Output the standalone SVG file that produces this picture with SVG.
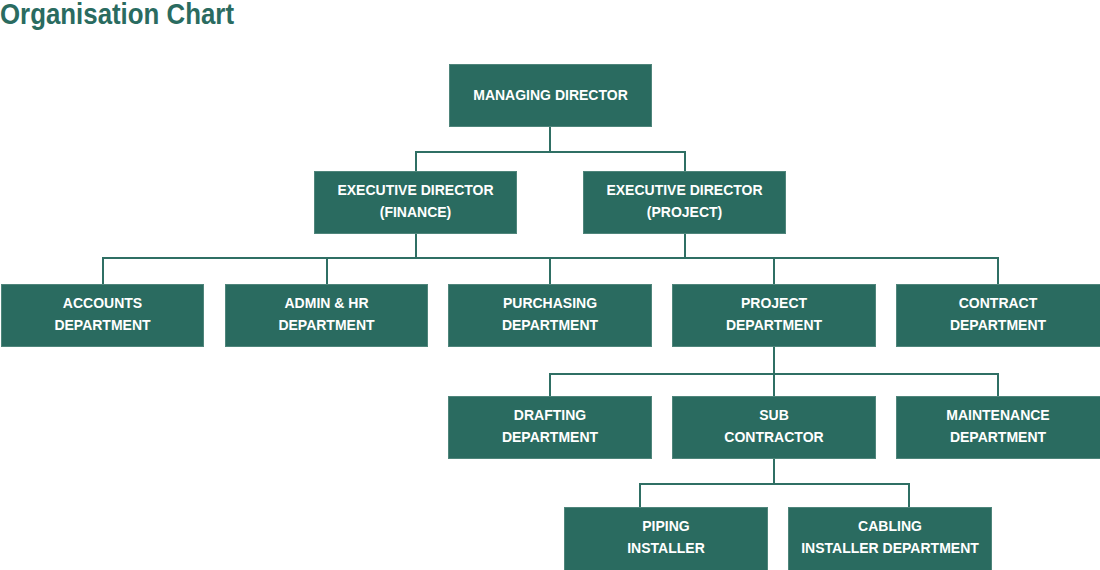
<svg xmlns="http://www.w3.org/2000/svg" width="1100" height="570" viewBox="0 0 1100 570">
<style>
.box{fill:#2a6b60;stroke:#4f857b;stroke-width:1}
.t{font-family:"Liberation Sans",Arial,sans-serif;font-size:14px;font-weight:bold;fill:#ffffff;text-anchor:middle}
.title{font-family:"Liberation Sans",Arial,sans-serif;font-size:29px;font-weight:bold;fill:#2a6b60}
.c{fill:none;stroke:#2f6f64;stroke-width:2}
</style>
<rect width="1100" height="570" fill="#ffffff"/>
<text class="title" x="0" y="24" textLength="234" lengthAdjust="spacingAndGlyphs">Organisation Chart</text>
<g id="connectors">
<path class="c" d="M550 127V152M416 171V152H685V171"/>
<path class="c" d="M416 234V258M685 234V258M103 284V258H998V284M327 258V284M550 258V284M774 258V284"/>
<path class="c" d="M774 347V374M550 396V374H998V396M774 374V396"/>
<path class="c" d="M774 459V484M640 507V484H909V507"/>
</g>
<g id="managing-director"><rect class="box" x="449.5" y="64.5" width="202" height="62"/><text class="t" x="550.5" y="100">MANAGING DIRECTOR</text></g>
<g id="exec-finance"><rect class="box" x="314.5" y="171.5" width="202" height="62"/><text class="t" x="415.5" y="195">EXECUTIVE DIRECTOR</text><text class="t" x="415.5" y="217">(FINANCE)</text></g>
<g id="exec-project"><rect class="box" x="583.5" y="171.5" width="202" height="62"/><text class="t" x="684.5" y="195">EXECUTIVE DIRECTOR</text><text class="t" x="684.5" y="217">(PROJECT)</text></g>
<g id="accounts"><rect class="box" x="1.5" y="284.5" width="202" height="62"/><text class="t" x="102.5" y="308">ACCOUNTS</text><text class="t" x="102.5" y="330">DEPARTMENT</text></g>
<g id="admin-hr"><rect class="box" x="225.5" y="284.5" width="202" height="62"/><text class="t" x="326.5" y="308">ADMIN &amp; HR</text><text class="t" x="326.5" y="330">DEPARTMENT</text></g>
<g id="purchasing"><rect class="box" x="448.5" y="284.5" width="203" height="62"/><text class="t" x="550" y="308">PURCHASING</text><text class="t" x="550" y="330">DEPARTMENT</text></g>
<g id="project"><rect class="box" x="672.5" y="284.5" width="203" height="62"/><text class="t" x="774" y="308">PROJECT</text><text class="t" x="774" y="330">DEPARTMENT</text></g>
<g id="contract"><rect class="box" x="896.5" y="284.5" width="204" height="62"/><text class="t" x="998" y="308">CONTRACT</text><text class="t" x="998" y="330">DEPARTMENT</text></g>
<g id="drafting"><rect class="box" x="448.5" y="396.5" width="203" height="62"/><text class="t" x="550" y="420">DRAFTING</text><text class="t" x="550" y="442">DEPARTMENT</text></g>
<g id="sub-contractor"><rect class="box" x="672.5" y="396.5" width="203" height="62"/><text class="t" x="774" y="420">SUB</text><text class="t" x="774" y="442">CONTRACTOR</text></g>
<g id="maintenance"><rect class="box" x="896.5" y="396.5" width="204" height="62"/><text class="t" x="998" y="420">MAINTENANCE</text><text class="t" x="998" y="442">DEPARTMENT</text></g>
<g id="piping"><rect class="box" x="564.5" y="507.5" width="203" height="63"/><text class="t" x="666" y="531">PIPING</text><text class="t" x="666" y="553">INSTALLER</text></g>
<g id="cabling"><rect class="box" x="788.5" y="507.5" width="203" height="63"/><text class="t" x="890" y="531">CABLING</text><text class="t" x="890" y="553">INSTALLER DEPARTMENT</text></g>
</svg>
